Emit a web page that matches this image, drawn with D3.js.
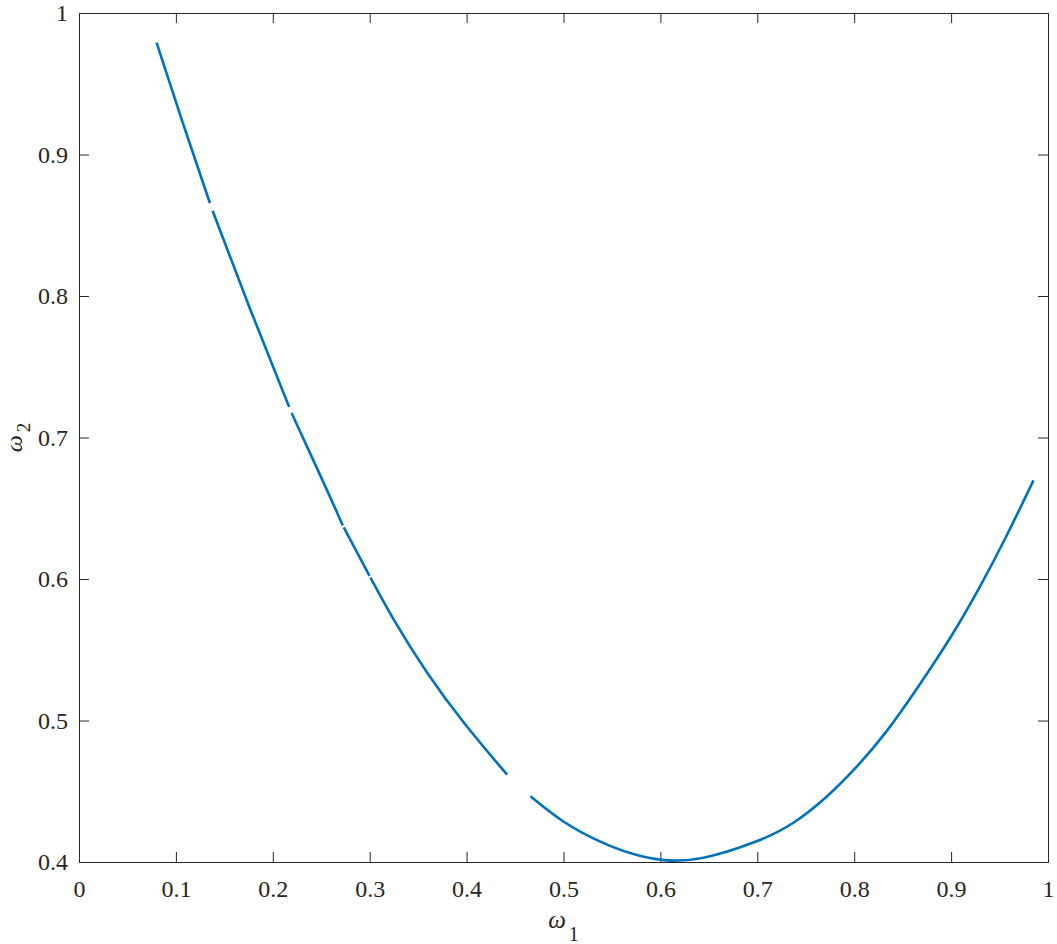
<!DOCTYPE html>
<html lang="en">
  <head>
    <meta charset="utf-8">
    <title>omega curve</title>
    <style>
      body { margin: 0; background: #fff; }
      svg { display: block; font-family: "Times New Roman", "Liberation Serif", Tinos, Times, serif; }
      .axis path { display: none; }
      .axis line { stroke: #262626; }
      .axis text { fill: #262626; font-size: 24px; font-family: "Times New Roman", "Liberation Serif", Tinos, Times, serif; }
    </style>
  </head>
  <body>
    <svg></svg>

    <script src="https://d3js.org/d3.v7.min.js"></script>

    <script>
      // size of the page and the plot box
      var svgWidth = 1057;
      var svgHeight = 944;
      var margin = {top: 13, right: 9, bottom: 82, left: 79};
      var width = svgWidth - margin.left - margin.right;
      var height = svgHeight - margin.top - margin.bottom;

      // data, null = gap in the curve
      var w1 = [0.0801, 0.107, 0.1351, null,
                0.1379, 0.1764, 0.2169, null,
                0.2194, 0.2606, 0.2722, null,
                0.2732, 0.2998, null,
                0.3008, 0.3242, 0.3586, 0.3964, 0.4418, null,
                0.4659, 0.4996, 0.5374, 0.5718, 0.6027, 0.6405, 0.7025, 0.7368,
                0.7712, 0.8021, 0.8331, 0.864, 0.9018, 0.9293, 0.9569, 0.985];
      var w2 = [0.979, 0.922, 0.8657, null,
                0.8603, 0.7903, 0.7216, null,
                0.7173, 0.656, 0.6378, null,
                0.6365, 0.6022, null,
                0.6010, 0.5712, 0.5336, 0.4982, 0.4617, null,
                0.4464, 0.4276, 0.4140, 0.4050, 0.4005, 0.4008, 0.4146, 0.4264,
                0.4452, 0.4664, 0.4912, 0.5215, 0.5605, 0.5935, 0.6295, 0.6697];

      var xTicks = [0, 0.1, 0.2, 0.3, 0.4, 0.5, 0.6, 0.7, 0.8, 0.9, 1];
      var yTicks = [0.4, 0.5, 0.6, 0.7, 0.8, 0.9, 1];

      var svg = d3.select('svg')
          .attr('width', svgWidth)
          .attr('height', svgHeight);

      var g = svg.append('g')
          .attr('transform', 'translate(' + margin.left + ',' + margin.top + ')');

      var x = d3.scaleLinear().domain([0, 1]).range([0, width]);
      var y = d3.scaleLinear().domain([0.4, 1]).range([height, 0]);

      var fmt = function(d) { return d3.format('~g')(d); };

      // bottom axis with labels, ticks point inward
      var xAxis = g.append('g')
          .attr('class', 'axis')
          .attr('transform', 'translate(0,' + height + ')')
          .call(d3.axisBottom(x).tickValues(xTicks).tickFormat(fmt).tickSizeInner(-10).tickSizeOuter(0));
      xAxis.selectAll('text').attr('y', 35).attr('dy', null);

      // top axis, only ticks
      g.append('g')
          .attr('class', 'axis')
          .call(d3.axisTop(x).tickValues(xTicks).tickFormat('').tickSizeInner(-10).tickSizeOuter(0));

      // left axis with labels
      var yAxis = g.append('g')
          .attr('class', 'axis')
          .call(d3.axisLeft(y).tickValues(yTicks).tickFormat(fmt).tickSizeInner(-10).tickSizeOuter(0));
      yAxis.selectAll('text').attr('x', -11).attr('dy', '0.33em');

      // right axis, only ticks
      g.append('g')
          .attr('class', 'axis')
          .attr('transform', 'translate(' + width + ',0)')
          .call(d3.axisRight(y).tickValues(yTicks).tickFormat('').tickSizeInner(-10).tickSizeOuter(0));

      // the axis groups get font-family="sans-serif" from d3, put serif back
      g.selectAll('.axis').attr('font-family', null);

      // box round the plot
      g.append('rect')
          .attr('x', 0.5)
          .attr('y', 0.5)
          .attr('width', width)
          .attr('height', height)
          .attr('fill', 'none')
          .attr('stroke', '#262626')
          .attr('stroke-width', 1);

      // the curve
      var points = w1.map(function(d, i) { return [d, w2[i]]; });

      var line = d3.line()
          .defined(function(d) { return d[0] !== null; })
          .x(function(d) { return x(d[0]); })
          .y(function(d) { return y(d[1]); })
          .curve(d3.curveBasis);

      g.append('path')
          .datum(points)
          .attr('d', line)
          .attr('fill', 'none')
          .attr('stroke', '#0072BD')
          .attr('stroke-width', 2.6);

      // axis titles
      var xLabel = svg.append('text')
          .attr('x', margin.left + width / 2)
          .attr('y', 928)
          .attr('text-anchor', 'middle')
          .attr('fill', '#262626');
      xLabel.append('tspan').attr('font-style', 'italic').attr('font-size', 25).text('ω');
      xLabel.append('tspan').attr('font-size', 20).attr('dx', 3).attr('dy', 13).text('1');

      var yLabel = svg.append('text')
          .attr('transform', 'translate(22,' + (margin.top + height / 2) + ') rotate(-90)')
          .attr('text-anchor', 'middle')
          .attr('fill', '#262626');
      yLabel.append('tspan').attr('font-style', 'italic').attr('font-size', 24).text('ω');
      yLabel.append('tspan').attr('font-size', 19).attr('dx', 3).attr('dy', 8).text('2');
    </script>
  </body>
</html>
